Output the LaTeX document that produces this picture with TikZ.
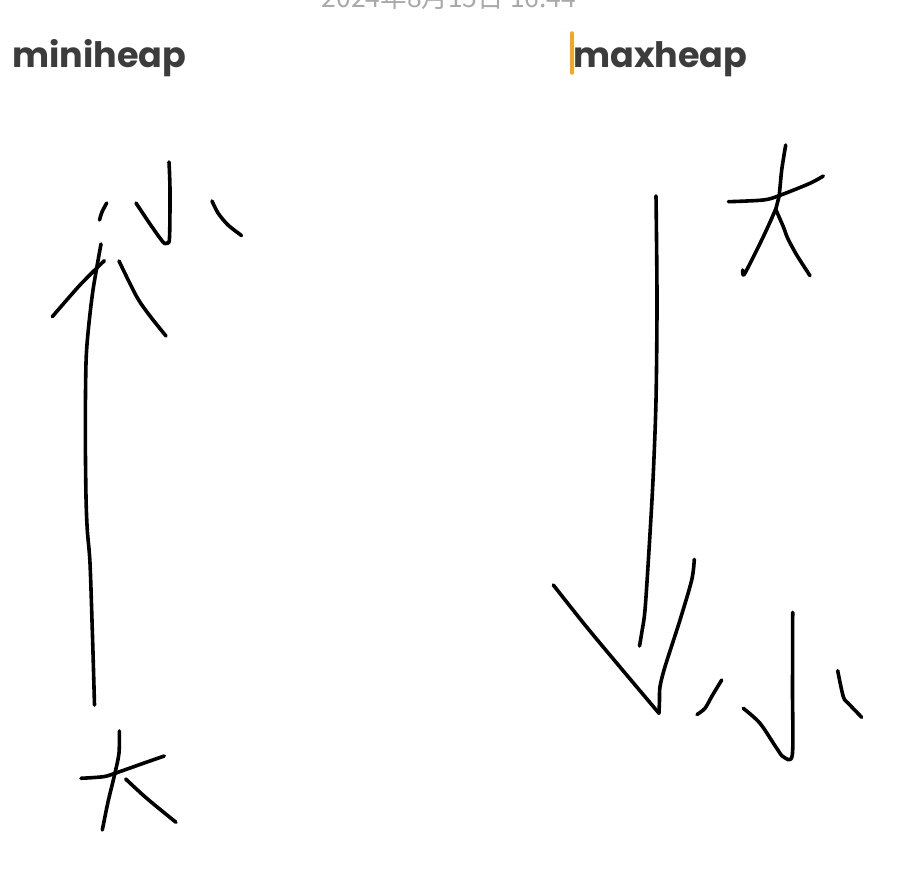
\documentclass[tikz,border=0pt]{standalone}
\usepackage{fontspec}
\setmainfont{Poppins}
\newfontfamily\cjkfont{Noto Sans CJK SC}
\begin{document}
\begin{tikzpicture}[x=1pt,y=-1pt,
  ink/.style={line width=3.6pt,line cap=round,line join=round,black},
  title/.style={font=\fontsize{35}{38}\selectfont\bfseries,text=titlegrey,inner sep=0pt,anchor=base west},
  stamp/.style={font=\cjkfont\fontsize{26.5}{28}\selectfont,text=stampgrey,inner sep=0pt,anchor=base}]
\definecolor{titlegrey}{HTML}{3C3C3C}
\definecolor{stampgrey}{HTML}{A9A9A9}
\definecolor{cursor}{HTML}{F5A623}
\useasboundingbox (0,0) rectangle (910,878);
\fill[white] (0,0) rectangle (910,878);

% header texts
\node[stamp] (date) at (449,8) {2024年8月15日 16:44};
\node[title] (minih) at (12,67) {miniheap};
\node[title] (maxh) at (573,67) {maxheap};
\coordinate (curTop) at (572,33);
\coordinate (curBot) at (572,73);
\draw[cursor,line width=3.5pt,line cap=round] (curTop) -- (curBot);

% ---- left: 小 at top
\draw[ink] plot[smooth] coordinates {(106.7,203) (102,212) (99.5,220)};
\draw[ink] plot[smooth] coordinates {(169,162) (170,190) (169.5,238) (167,243) (163,242) (150,224) (136,203)};
\draw[ink] plot[smooth] coordinates {(212,201) (218,213) (228,225) (241.5,235.5)};

% ---- left arrow (pointing up)
\draw[ink] plot[smooth] coordinates {(101,244) (93,290) (88.3,330) (86,363) (85.3,430) (86,497) (87.3,530) (90,563) (92.3,630) (93.3,663) (94.5,705)};
\draw[ink] plot[smooth] coordinates {(104.3,260.7) (80,285) (52.3,316.7)};
\draw[ink] plot[smooth] coordinates {(119,261) (136.7,296.7) (150,316) (166,336)};

% ---- left: 大 at bottom
\draw[ink] plot[smooth] coordinates {(119.3,731) (119,753) (115,773) (108,802) (102.3,830)};
\draw[ink] plot[smooth] coordinates {(81,778.3) (103.3,776.7) (115,773.3) (143.3,763.3) (164.3,756)};
\draw[ink] plot[smooth] coordinates {(125.7,779) (146.7,798.3) (176,822.3)};

% ---- right: 大 at top
\draw[ink] plot[smooth] coordinates {(785.7,145) (781.7,170) (779,196.7) (776,208.3) (763.3,236.7) (746.7,270) (743.3,275) (742.7,270)};
\draw[ink] plot[smooth] coordinates {(776,210) (783.3,226.7) (787.7,238.3) (796.7,255) (810,275.7)};
\draw[ink] plot[smooth] coordinates {(728.3,201.7) (763.3,200) (779,195.7) (810,183.3) (823.3,176)};

% ---- right arrow (pointing down)
\draw[ink] plot[smooth] coordinates {(656,196) (657,300) (656,400) (653,480) (649,550) (645,610) (641.7,633) (639.5,646)};
\draw[ink] plot[smooth] coordinates {(553.3,585) (585,625) (618.3,665) (659,713.3)};
\draw[ink] plot[smooth] coordinates {(659,713) (659.5,700) (660,686.7) (665,666.7) (680,620) (691.7,580) (694.3,559.3)};

% ---- right: 小 at bottom
\draw[ink] plot[smooth] coordinates {(721.7,680) (712,696) (705,708.3) (697,714.5)};
\draw[ink] plot[smooth] coordinates {(792.7,612.3) (792.5,690) (792.3,755) (783.3,756.7) (776.7,748.3) (760,723.3) (743.3,708.3)};
\draw[ink] plot[smooth] coordinates {(837.7,670.7) (843.3,696.7) (848.3,703.3) (861.7,717.3)};
\end{tikzpicture}
\end{document}
